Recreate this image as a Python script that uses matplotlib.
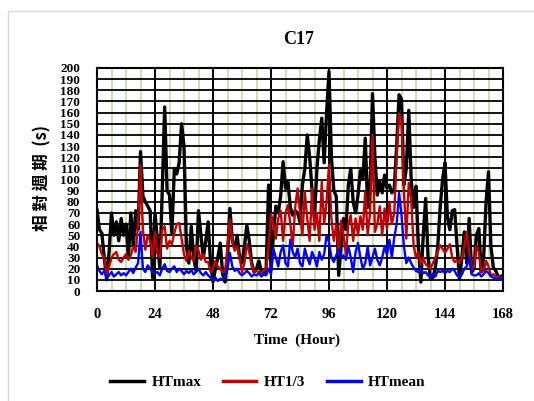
import matplotlib
matplotlib.use("Agg")
import matplotlib.pyplot as plt
from matplotlib.patches import Rectangle

hours = list(range(0, 169))

ht_max = [73, 55, 52, 30, 10, 35, 70, 50, 62, 45, 65, 50, 60, 30, 70, 40, 72, 55, 125, 85,
          80, 76, 72, 12, 70, 45, 20, 90, 165, 90, 86, 52, 110, 105, 115, 150, 130, 40, 25, 58,
          30, 18, 72, 50, 30, 45, 62, 25, 8, 20, 30, 43, 15, 8, 30, 74, 45, 38, 50, 30,
          25, 40, 59, 45, 25, 17, 20, 27, 17, 15, 20, 95, 19, 50, 76, 70, 85, 116, 92, 98,
          75, 68, 72, 70, 62, 95, 110, 140, 120, 90, 65, 110, 135, 155, 115, 160, 197, 120, 90, 85,
          14, 40, 65, 55, 95, 110, 80, 70, 86, 108, 100, 137, 75, 92, 177, 120, 86, 98, 88, 104,
          92, 95, 88, 92, 130, 176, 172, 95, 110, 162, 100, 75, 94, 40, 8, 50, 83, 30, 11, 12,
          21, 40, 75, 100, 115, 66, 55, 72, 73, 40, 11, 30, 53, 25, 65, 17, 20, 50, 56, 17,
          30, 80, 107, 40, 21, 18, 13, 13, 14]

ht_13 = [43, 40, 33, 30, 14, 22, 30, 33, 35, 28, 26, 30, 33, 28, 32, 40, 35, 60, 113, 55,
         37, 50, 45, 30, 53, 33, 30, 55, 58, 38, 45, 42, 52, 60, 61, 47, 33, 27, 36, 30,
         27, 40, 36, 28, 33, 26, 26, 17, 20, 27, 22, 20, 17, 18, 40, 64, 45, 36, 40, 30,
         17, 25, 42, 35, 23, 17, 18, 17, 16, 18, 20, 39, 69, 60, 47, 65, 72, 45, 70, 77,
         60, 40, 75, 92, 70, 50, 89, 65, 45, 92, 55, 70, 45, 98, 60, 80, 113, 65, 45, 60,
         33, 63, 50, 33, 60, 68, 45, 65, 50, 67, 55, 89, 50, 70, 140, 53, 60, 76, 50, 74,
         55, 80, 60, 70, 120, 159, 155, 90, 47, 97, 83, 41, 30, 35, 24, 30, 24, 22, 20, 25,
         30, 35, 41, 38, 34, 38, 42, 30, 26, 28, 25, 30, 40, 53, 35, 20, 22, 40, 35, 17,
         18, 27, 22, 14, 15, 13, 13, 12, 12]

ht_mean = [23, 18, 15, 18, 12, 14, 17, 13, 15, 17, 14, 16, 14, 17, 20, 16, 21, 25, 53, 20,
           17, 23, 20, 17, 16, 17, 14, 20, 24, 18, 17, 20, 22, 17, 20, 18, 15, 18, 16, 19,
           15, 17, 20, 16, 14, 17, 14, 12, 10, 12, 9, 11, 10, 12, 20, 34, 22, 18, 20, 16,
           14, 16, 18, 16, 13, 15, 14, 16, 13, 15, 14, 20, 15, 38, 30, 22, 35, 41, 25, 22,
           46, 35, 30, 38, 25, 22, 38, 30, 24, 35, 30, 22, 35, 28, 33, 50, 44, 30, 26, 32,
           37, 30, 32, 28, 40, 30, 17, 35, 43, 30, 20, 25, 40, 23, 30, 38, 28, 23, 30, 40,
           32, 46, 30, 48, 60, 88, 68, 40, 25, 30, 25, 21, 18, 17, 20, 16, 17, 14, 12, 15,
           13, 18, 17, 18, 16, 18, 17, 20, 18, 14, 12, 15, 20, 22, 30, 15, 14, 14, 16, 13,
           15, 18, 16, 13, 12, 11, 11, 11, 11]

x_ticks = [0, 24, 48, 72, 96, 120, 144, 168]
y_ticks = list(range(0, 201, 10))
series_names = ["HTmax", "HT1/3", "HTmean"]
series_colors = ["#000000", "#c00000", "#0000ff"]

serif = ["Liberation Serif", "DejaVu Serif"]
cjk = ["Noto Sans CJK TC", "DejaVu Sans"]

fig = plt.figure(figsize=(5.34, 4.01), dpi=100)
fig.patch.set_facecolor("white")
# outer frame of the source figure
fig.patches.append(Rectangle((8 / 534, -0.1), 1.2, 1 - 11 / 401 + 0.1,
                             transform=fig.transFigure, fill=False,
                             edgecolor="#d9d9d9", linewidth=1.0))

ax = fig.add_axes([97 / 534, 1 - 291 / 401, (503 - 97) / 534, (291 - 68) / 401])
ax.set_axisbelow(True)

ax.set_xlim(0, 168)
ax.set_ylim(0, 200)
ax.set_xticks(x_ticks)
ax.set_xticks(list(range(0, 169, 6)), minor=True)
ax.set_yticks(y_ticks)

ax.grid(which="minor", axis="x", color="#b9d89c", linewidth=1.1)
ax.grid(which="major", axis="x", color="black", linewidth=1.4)
ax.grid(which="major", axis="y", color="black", linewidth=1.3)

ax.plot(hours, ht_max, color=series_colors[0], linewidth=2.4, label=series_names[0])
ax.plot(hours, ht_13, color=series_colors[1], linewidth=1.7, label=series_names[1])
ax.plot(hours, ht_mean, color=series_colors[2], linewidth=1.7, label=series_names[2])

for s in ax.spines.values():
    s.set_linewidth(1.5)
    s.set_color("black")

ax.tick_params(which="both", length=0)
ax.tick_params(axis="y", pad=12)
ax.tick_params(axis="x", pad=12)
for lbl in ax.get_xticklabels():
    lbl.set_fontfamily(serif)
    lbl.set_fontweight("bold")
    lbl.set_fontsize(10.5)
for lbl in ax.get_yticklabels():
    lbl.set_fontfamily(serif)
    lbl.set_fontweight("bold")
    lbl.set_fontsize(9.5)

fig.text(299 / 534, 1 - 40 / 401, "C17", ha="center", va="center",
         fontsize=13, fontweight="bold", family=serif)
fig.text(297 / 534, 1 - 340 / 401, "Time  (Hour)", ha="center", va="center",
         fontsize=11, fontweight="bold", family=serif)
fig.text(42 / 534, 1 - 178 / 401, "相 對 週 期  (s)", ha="center", va="center",
         rotation=90, fontsize=12, fontweight="bold", family=cjk)

leg = fig.legend(loc="center", bbox_to_anchor=(268 / 534, 1 - 382 / 401), ncol=3,
                 frameon=False, handlelength=2.2, columnspacing=1.4, handletextpad=0.5,
                 prop={"family": serif, "weight": "bold", "size": 11})
for h in leg.get_lines():
    h.set_linewidth(2.5)

fig.savefig("out.png", dpi=100)
